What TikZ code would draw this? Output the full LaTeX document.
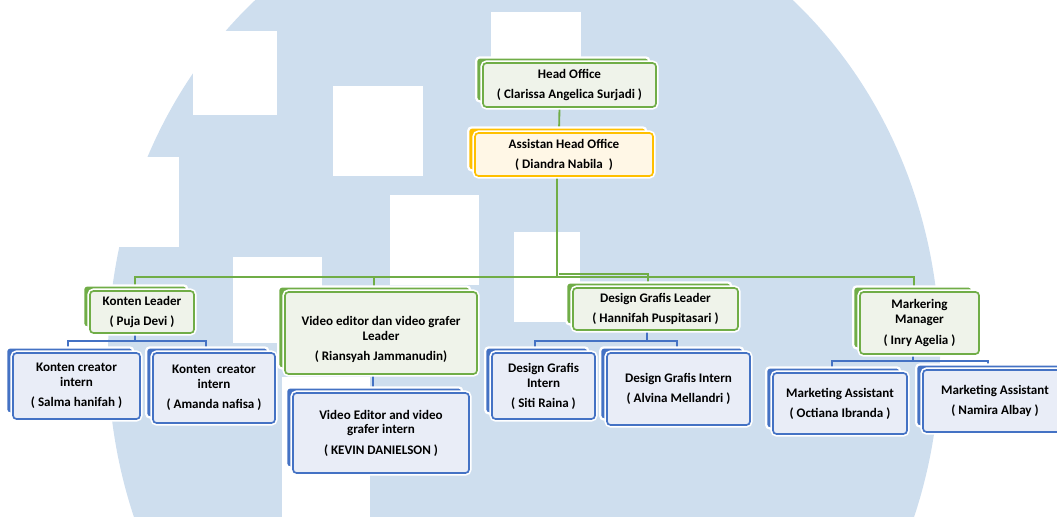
\documentclass[tikz,border=0pt]{standalone}
\usepackage{fontspec}
\setmainfont{Carlito}
\usetikzlibrary{shadows}
\definecolor{gcol}{RGB}{112,173,71}
\definecolor{glight}{RGB}{239,243,234}
\definecolor{ycol}{RGB}{255,192,0}
\definecolor{ylight}{RGB}{255,247,230}
\definecolor{bcol}{RGB}{68,114,196}
\definecolor{blight}{RGB}{233,237,247}
\definecolor{wmark}{RGB}{206,222,238}
\pgfdeclarelayer{wm}
\pgfdeclarelayer{lines}
\pgfsetlayers{wm,lines,main}
\tikzset{
  txt/.style={font=\bfseries\fontsize{9.3}{10.6}\selectfont, align=center},
  orgbox/.style n args={3}{txt, rounded corners=2.5pt, line width=1.2pt, inner sep=1pt,
    draw=#1col, fill=#1light, minimum width=#2*0.025cm, minimum height=#3*0.025cm,
    copy shadow={shadow xshift=-0.17cm, shadow yshift=0.14cm, fill=#1col, draw=white, line width=1.6pt},
    preaction={draw=white, line width=3.6pt}},
  gline/.style={draw=gcol, line width=1.3pt},
  bline/.style={draw=bcol, line width=1.3pt}
}
\begin{document}
\begin{tikzpicture}[x=0.025cm, y=-0.025cm]
\useasboundingbox (0,0) rectangle (1057,517);
\clip (0,0) rectangle (1057,517);
\begin{pgfonlayer}{wm}
  \fill[wmark] (524,355) ellipse [x radius=416, y radius=465];
  \fill[white] (193,31) rectangle (277,115);
  \fill[white] (0,157) rectangle (179,247);
  \fill[white] (333,86) rectangle (423,176);
  \fill[white] (491,12) rectangle (581,57);
  \fill[white] (390,195) rectangle (479,285);
  \fill[white] (514,232) rectangle (580,322);
  \fill[white] (233,257) rectangle (322,343);
  \fill[white] (282,377) rectangle (370,517);
\end{pgfonlayer}

\node[orgbox={g}{173}{44}] (head) at (569.5,85) {Head Office\\[3.6pt]( Clarissa Angelica Surjadi )};
\node[orgbox={y}{178}{43}] (asst) at (564,154.5) {Assistan Head Office\\[3.6pt]( Diandra Nabila\ \ )};

\node[orgbox={g}{104}{42}] (konten) at (142,312) {Konten Leader\\[3.6pt]( Puja Devi )};
\node[orgbox={g}{192}{82}, label={[txt, yshift=-0.17cm]center:Video editor dan video grafer\\Leader\\[3.8pt]( Riansyah Jammanudin)}] (video) at (381,333) {};
\node[orgbox={g}{165}{42}] (design) at (655.5,309) {Design Grafis Leader\\[3.6pt]( Hannifah Puspitasari )};
\node[orgbox={g}{119}{62}] (market) at (919.5,323) {Markering\\Manager\\[3.8pt]( Inry Agelia )};

\node[orgbox={b}{127}{66}] (salma) at (76.5,386) {Konten creator\\intern\\[3.6pt]( Salma hanifah )};
\node[orgbox={b}{122}{70}] (amanda) at (214,388) {Konten~~creator\\intern\\[3.6pt]( Amanda nafisa )};
\node[orgbox={b}{176}{80}] (kevin) at (381,433) {Video Editor and video\\grafer intern\\[3.8pt]( KEVIN DANIELSON )};
\node[orgbox={b}{103}{66}] (siti) at (543.5,386) {Design Grafis\\Intern\\[3.6pt]( Siti Raina )};
\node[orgbox={b}{143}{72}] (alvina) at (678.5,389) {Design Grafis Intern\\[3.6pt]( Alvina Mellandri )};
\node[orgbox={b}{134}{61}] (octiana) at (840,403.5) {Marketing Assistant\\[3.6pt]( Octiana Ibranda )};
\node[orgbox={b}{144}{62}] (namira) at (995,401) {Marketing Assistant\\[3.6pt]( Namira Albay )};

\begin{pgfonlayer}{lines}
  % green tree
  \draw[gline] ([shift={(-10,0)}]head.south) -- ([shift={(-5,0)}]asst.north);
  \draw[gline] ([shift={(-7,0)}]asst.south) -- (557,277) coordinate (bus);
  \draw[gline] ([shift={(-7,0)}]konten.north) |- (bus) -| ([shift={(-5.5,0)}]market.north);
  \draw[gline] ([shift={(-7,0)}]video.north) -- ([shift={(-7,0)}]video.north |- bus);
  \draw[gline] ([shift={(2,-3)}]bus) -| ([shift={(-7.5,0)}]design.north);
  % blue branches
  \draw[bline] ([shift={(-7,0)}]konten.south) -- ++(0,7) coordinate (kbus);
  \draw[bline] ([shift={(-8.5,0)}]salma.north) |- (kbus) -| ([shift={(-8,0)}]amanda.north);
  \draw[bline] ([shift={(-8,0)}]video.south) -- ([shift={(-8,0)}]video.south |- kevin.north);
  \draw[bline] ([shift={(-8.5,0)}]design.south) -- ++(0,10) coordinate (dbus);
  \draw[bline] ([shift={(-8.5,0)}]siti.north) |- (dbus) -| ([shift={(-1.5,0)}]alvina.north);
  \draw[bline] ([shift={(-6.5,0)}]market.south) -- ++(0,6) coordinate (mbus);
  \draw[bline] ([shift={(-8,0)}]octiana.north) |- (mbus) -| ([shift={(-7,0)}]namira.north);
\end{pgfonlayer}
\end{tikzpicture}
\end{document}
